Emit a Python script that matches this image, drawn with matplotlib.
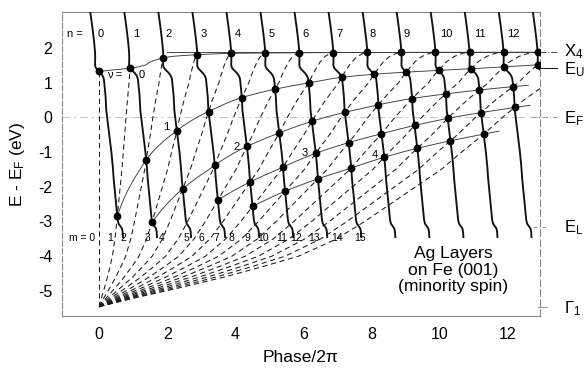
import numpy as np
import matplotlib.pyplot as plt

plt.rcParams['font.family'] = ['Liberation Sans', 'DejaVu Sans']
plt.rcParams['mathtext.default'] = 'regular'
plt.rcParams['axes.unicode_minus'] = False

# phase shift of the solid curves (x = n + boundary_phase)
energy_solid = np.array([-3.45, -3.3, -3.2, -3.13, -3.06, -2.95, -2.6, -2.2, -1.8, -1.4,
                         -1.0, -0.6, -0.2, 0.2, 0.6, 1.0, 1.12, 1.2, 1.27, 1.33, 1.38,
                         1.43, 1.5, 1.7, 1.89, 2.2, 2.6, 3.1])
boundary_phase = np.array([0.70, 0.69, 0.67, 0.62, 0.57, 0.545, 0.51, 0.47, 0.43, 0.40,
                           0.36, 0.31, 0.26, 0.21, 0.19, 0.15, 0.135, 0.10, 0.05, -0.01, -0.06,
                           -0.10, -0.12, -0.115, -0.12, -0.15, -0.20, -0.27])

# Ag band phase per layer (dashed lines: x = m * band_phase)
energy_band = np.array([-5.45, -5.2, -4.9, -4.6, -4.3, -4.0, -3.5, -3.0, -2.5, -2.0, -1.5,
                        -1.0, -0.5, 0.0, 0.5, 1.0, 1.2, 1.43, 1.6, 1.75, 1.84, 1.89])
band_phase = np.array([0.0, 0.07, 0.16, 0.245, 0.32, 0.39, 0.465, 0.52, 0.57, 0.62, 0.67,
                       0.71, 0.752, 0.79, 0.832, 0.88, 0.894, 0.913, 0.928, 0.948, 0.97, 1.0])

n_values = list(range(0, 14))
m_values = list(range(0, 16))
nu_values = [0, 1, 2, 3, 4]
nu_first_n = [0, 0, 1, 3, 4]
nu_last_n = [13, 13, 12, 12, 11]

n_label_x = [-0.05, 1.0, 1.95, 2.98, 3.97, 4.97, 5.97, 6.98, 7.95, 8.95, 10.03, 11.0, 11.97]
m_label_x = [0.32, 0.71, 1.42, 1.84, 2.57, 3.01, 3.45, 3.9, 4.36, 4.82, 5.36, 5.8, 6.32, 6.98, 7.66]
nu_label_x = [1.97, 4.04, 6.05, 8.1]
nu_label_y = [-0.27, -0.85, -1.04, -1.09]

levels = {'X4': 1.89, 'EU': 1.43, 'EF': 0.0, 'EL': -3.15, 'G1': -5.45}

fig = plt.figure(figsize=(5.85, 3.69), dpi=100)
ax = fig.add_axes([62 / 585, 1 - 316 / 369, 478 / 585, 304 / 369])
ax.set_xlim(-1.09, 12.95)
ax.set_ylim(-5.72, 3.03)

# faint Fermi level line
ax.axhline(levels['EF'], color='#c4c4c4', lw=0.7, ls=(0, (8, 4, 2, 4)), zorder=0)

# solid curves
for n in n_values:
    ax.plot(n + boundary_phase, energy_solid, color='#111111', lw=1.35, zorder=3)

# nu curves and dots
E_fine = np.linspace(-3.1, 1.8885, 3000)
g_f = np.interp(E_fine, energy_solid, boundary_phase)
h_f = np.interp(E_fine, energy_band, band_phase)
top_dot_E = {}
for nu, n0, n1 in zip(nu_values, nu_first_n, nu_last_n):
    n_of_E = (nu * h_f - g_f) / (1 - h_f)
    x_of_E = n_of_E + g_f
    ok = n_of_E >= n0 - 1e-9
    E_start = np.interp(n0, n_of_E[ok], E_fine[ok])
    dot_E = np.array([np.interp(n, n_of_E[ok], E_fine[ok]) for n in range(n0, n1 + 1)])
    dot_x = np.arange(n0, n1 + 1) + np.interp(dot_E, energy_solid, boundary_phase)
    if nu == 0:
        for n, e in zip(range(n0, n1 + 1), dot_E):
            top_dot_E[n] = e
        sel = E_fine >= E_start
    elif nu == 1:
        sel = E_fine >= E_start
    else:
        sel = (E_fine >= E_start) & (x_of_E <= dot_x[-1] + 0.45)
    ax.plot(x_of_E[sel], E_fine[sel], color='#3a3a3a', lw=0.65, zorder=2)
    ax.plot(dot_x, dot_E, 'o', color='black', ms=4.6, zorder=5)

# X4 line
ax.plot([2.0, 12.95], [levels['X4'], levels['X4']], color='#3a3a3a', lw=0.65, zorder=2)

# dashed lines from Gamma_1
for m in m_values:
    if m == 0:
        e_end = top_dot_E[0]
        ax.plot([0, 0], [energy_band[0], e_end], color='#1a1a1a', lw=0.75,
                dashes=(5, 3.5), zorder=1)
        continue
    e_end = top_dot_E.get(m, 1.885)
    keep = energy_band < e_end
    ex = np.append(energy_band[keep], e_end)
    hx = np.append(band_phase[keep], np.interp(e_end, energy_band, band_phase))
    ax.plot(m * hx, ex, color='#1a1a1a', lw=0.75, dashes=(5, 3.5), zorder=1)

# labels inside
fs_small = 8
ax.text(-0.7, 2.4, 'n =', fontsize=fs_small, ha='center', va='center')
for n, x in zip(n_values, n_label_x):
    ax.text(x, 2.4, str(n), fontsize=fs_small, ha='left', va='center')
ax.text(0.47, 1.22, 'ν =', fontsize=fs_small, ha='center', va='center')
ax.text(1.25, 1.22, '0', fontsize=fs_small, ha='center', va='center')
for i, (x, y) in enumerate(zip(nu_label_x, nu_label_y)):
    ax.text(x, y, str(i + 1), fontsize=fs_small, ha='center', va='center')
ax.text(-0.51, -3.47, 'm = 0', fontsize=7.5, ha='center', va='center')
for m, x in zip(m_values[1:], m_label_x):
    ax.text(x, -3.47, str(m), fontsize=7.5, ha='center', va='center')

ax.text(10.4, -4.4, 'Ag Layers\non Fe (001)\n(minority spin)', fontsize=12.6,
        ha='center', va='center', linespacing=1.1)

# level markers on the right
x_out = 13.45
ax.plot([12.95, x_out], [levels['X4']] * 2, color='#444444', lw=0.7,
        ls=(0, (6, 2, 1, 2)), clip_on=False)
ax.plot([12.95, x_out], [levels['EU']] * 2, color='#222222', lw=0.8, clip_on=False)
ax.plot([12.7, x_out], [levels['EF']] * 2, color='#999999', lw=0.7,
        ls=(0, (6, 2, 1, 2)), clip_on=False)
ax.plot([12.74, 13.15], [levels['EL']] * 2, color='#999999', lw=0.7,
        ls=(0, (4, 2, 1, 2)), clip_on=False)
ax.plot([12.88, 13.15], [levels['G1']] * 2, color='#999999', lw=0.7, clip_on=False)
fs_right = 12
ax.text(13.66, levels['X4'], 'X$_4$', fontsize=fs_right, ha='left', va='center')
ax.text(13.66, 1.36, 'E$_U$', fontsize=fs_right, ha='left', va='center')
ax.text(13.66, -0.05, 'E$_F$', fontsize=fs_right, ha='left', va='center')
ax.text(13.66, -3.19, 'E$_L$', fontsize=fs_right, ha='left', va='center')
ax.text(13.66, -5.52, 'Γ$_1$', fontsize=fs_right, ha='left', va='center')

# axes styling
ax.set_xticks([0, 2, 4, 6, 8, 10, 12])
ax.set_yticks([2, 1, 0, -1, -2, -3, -4, -5])
ax.tick_params(length=0, labelsize=11.5)
ax.tick_params(axis='x', pad=8)
ax.tick_params(axis='y', pad=7)
for side in ['left', 'right', 'top', 'bottom']:
    ax.spines[side].set_color('#888888')
    ax.spines[side].set_linewidth(0.8)
ax.spines['left'].set_linestyle((0, (5, 2)))
ax.spines['right'].set_linestyle((0, (6, 3)))
ax.set_xlabel('Phase/2π', fontsize=12.5)
ax.set_ylabel('E - E$_F$ (eV)', fontsize=12.5)
ax.xaxis.set_label_coords(0.5, -0.112)
ax.yaxis.set_label_coords(-0.074, 0.5)

fig.savefig('out.png', dpi=100)
